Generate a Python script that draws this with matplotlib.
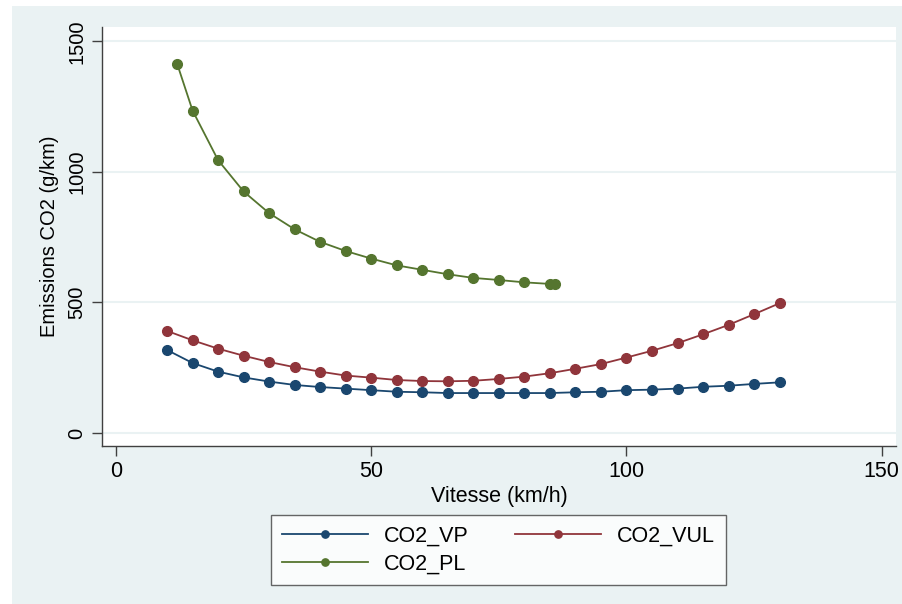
import matplotlib
matplotlib.use("Agg")
import matplotlib.pyplot as plt
from matplotlib.patches import Rectangle

plt.rcParams['font.family'] = ['Liberation Sans', 'DejaVu Sans']

# speeds (km/h)
speed = [10, 15, 20, 25, 30, 35, 40, 45, 50, 55, 60, 65, 70,
         75, 80, 85, 90, 95, 100, 105, 110, 115, 120, 125, 130]
speed_pl = [12, 15, 20, 25, 30, 35, 40, 45, 50, 55, 60, 65, 70, 75, 80, 85, 86]

# emissions (g/km)
co2_vp = [318, 268, 235, 213, 197, 184, 176, 170, 164, 158, 156, 153, 153,
          153, 153, 153, 156, 158, 164, 166, 170, 177, 181, 188, 194]
co2_vul = [391, 355, 323, 296, 272, 252, 235, 220, 212, 203, 199, 198, 200,
           207, 216, 229, 246, 264, 289, 315, 344, 378, 414, 455, 497]
co2_pl = [1413, 1235, 1045, 925, 842, 780, 732, 697, 668, 642, 625, 608,
          594, 586, 577, 571, 569]

navy = '#1A476F'
maroon = '#90353B'
green = '#55752F'
bg = '#EAF2F3'

fig = plt.figure(figsize=(9.03, 6.04), dpi=100)
fig.patches.append(Rectangle((12 / 903, 0), 1, 1 - 6 / 604, transform=fig.transFigure,
                             facecolor=bg, edgecolor='none', zorder=-10))

ax = fig.add_axes([102 / 903, 1 - 446 / 604, (896 - 102) / 903, (446 - 27) / 604])
ax.set_facecolor('white')

style = dict(marker='o', markersize=7, linewidth=1.3)
l_vp, = ax.plot(speed, co2_vp, color=navy, label='CO2_VP', **style)
l_vul, = ax.plot(speed, co2_vul, color=maroon, label='CO2_VUL', **style)
l_pl, = ax.plot(speed_pl, co2_pl, color=green, label='CO2_PL', **style)

ax.set_xlim(-2.74, 152.8)
ax.set_ylim(-49.8, 1555)
ax.set_xticks([0, 50, 100, 150])
ax.set_yticks([0, 500, 1000, 1500])
ax.grid(axis='y', color=bg, linewidth=1.5)
ax.set_axisbelow(True)

for s in ['top', 'right']:
    ax.spines[s].set_visible(False)
for s in ['left', 'bottom']:
    ax.spines[s].set_color('#404040')
    ax.spines[s].set_linewidth(1.0)

ax.tick_params(axis='both', length=7, width=1.0, color='#404040', pad=4)
ax.tick_params(axis='x', labelsize=15.5)
ax.tick_params(axis='y', labelsize=14.5)
for lab in ax.get_yticklabels():
    lab.set_rotation(90)
    lab.set_va('center')

ax.set_xlabel('Vitesse (km/h)', fontsize=15.5, labelpad=3)
ax.set_ylabel('Emissions CO2 (g/km)', fontsize=14.5, labelpad=6)

# column-major fill: row 1 = VP, VUL ; row 2 = PL
leg = fig.legend([l_vp, l_pl, l_vul], ['CO2_VP', 'CO2_PL', 'CO2_VUL'], ncol=2,
                 loc='upper left',
                 bbox_to_anchor=(271 / 903, 1 - 515 / 604, 455 / 903, 0),
                 bbox_transform=fig.transFigure, mode='expand',
                 fontsize=15.5, handlelength=4.0, markerscale=0.75,
                 frameon=True, fancybox=False, borderaxespad=0,
                 labelspacing=0.3, columnspacing=1.0, handletextpad=0.75,
                 borderpad=0.5)
leg.get_frame().set_edgecolor('#404040')
leg.get_frame().set_linewidth(1.0)

fig.savefig('out.png', dpi=100)
